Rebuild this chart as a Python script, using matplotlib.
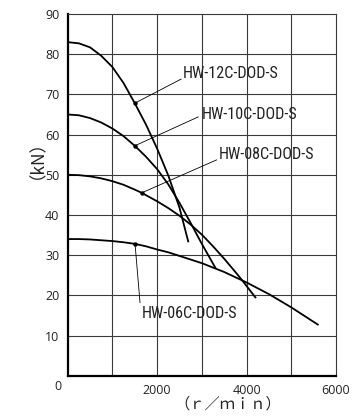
import matplotlib
matplotlib.use("Agg")
import matplotlib.pyplot as plt
from matplotlib import font_manager as fm

# Thrust vs. speed curves for each model (rpm, kN)
models = ["HW-12C-DOD-S", "HW-10C-DOD-S", "HW-08C-DOD-S", "HW-06C-DOD-S"]

rpm_12c = [0, 250, 500, 750, 1000, 1250, 1500, 1750, 2000, 2250, 2500, 2700]
kn_12c = [83, 82.7, 81.7, 79.6, 76.8, 72.8, 67.8, 62.5, 56.5, 49.8, 41.8, 33.2]

rpm_10c = [0, 250, 500, 750, 1000, 1250, 1500, 1750, 2000, 2250, 2500, 2750, 3000, 3310]
kn_10c = [65, 64.8, 64.1, 63.0, 61.5, 59.6, 57.2, 54.5, 51.4, 47.6, 43.0, 38.0, 32.8, 26.7]

rpm_08c = [0, 250, 500, 750, 1000, 1250, 1500, 1655, 2000, 2250, 2500, 2750, 3000,
           3250, 3500, 3750, 3890, 4210]
kn_08c = [50, 49.9, 49.6, 49.1, 48.4, 47.5, 46.3, 45.5, 43.4, 41.7, 39.8, 37.6, 35.1,
          32.2, 29.1, 25.8, 23.9, 19.3]

rpm_06c = [0, 250, 500, 750, 1000, 1250, 1506, 1750, 2000, 2250, 2500, 2750, 3000,
           3250, 3500, 3750, 4000, 4500, 5000, 5610]
kn_06c = [34, 34.0, 33.9, 33.7, 33.5, 33.2, 32.8, 32.2, 31.4, 30.7, 29.8, 28.9, 28.0,
          26.9, 25.8, 24.5, 23.2, 20.3, 17.0, 12.6]

curves = [(rpm_12c, kn_12c), (rpm_10c, kn_10c), (rpm_08c, kn_08c), (rpm_06c, kn_06c)]

# Leader lines: point on curve -> label end, and label anchor (left, middle)
leader_from = [(1500, 67.8), (1500, 57.2), (1655, 45.5), (1506, 32.8)]
leader_to = [(2535, 73.8), (2920, 64.4), (3330, 53.7), (1617, 18.2)]
label_at = [(2570, 75.2), (3000, 64.9), (3385, 55.1), (1655, 15.5)]

x_ticks = [2000, 4000, 6000]
y_ticks = [10, 20, 30, 40, 50, 60, 70, 80, 90]


def has_font(name):
    try:
        fm.findfont(fm.FontProperties(family=name), fallback_to_default=False)
        return True
    except ValueError:
        return False


# Pick a condensed face for the model labels when one is installed
label_family, label_size = "DejaVu Sans", 8.9
for fam, size in [("Liberation Sans Narrow", 12.0), ("Roboto Condensed", 11.6),
                  ("Open Sans Condensed", 11.6), ("Roboto", 9.9)]:
    if has_font(fam):
        label_family, label_size = fam, size
        break

fig = plt.figure(figsize=(3.6, 4.17), dpi=100)
ax = fig.add_axes([67.7 / 360, 41.3 / 417, (336 - 67.7) / 360, (375.7 - 14) / 417])

ax.set_xlim(0, 6000)
ax.set_ylim(0, 90)

# grid
for gx in range(1000, 6000, 1000):
    ax.axvline(gx, color="#3a3a3a", lw=0.8, zorder=1)
for gy in range(10, 90, 10):
    ax.axhline(gy, color="#3a3a3a", lw=0.8, zorder=1)

for s in ["top", "right"]:
    ax.spines[s].set_linewidth(0.8)
    ax.spines[s].set_color("#3a3a3a")
for s in ["left", "bottom"]:
    ax.spines[s].set_linewidth(1.6)
    ax.spines[s].set_color("black")

for xs, ys in curves:
    ax.plot(xs, ys, color="black", lw=1.3, zorder=3, solid_capstyle="butt",
            solid_joinstyle="round")

for name, p0, p1, pl in zip(models, leader_from, leader_to, label_at):
    ax.plot([p0[0], p1[0]], [p0[1], p1[1]], color="black", lw=0.6, zorder=3)
    ax.plot([p0[0]], [p0[1]], "o", color="black", ms=2.2, zorder=4)
    ax.text(pl[0], pl[1], name, ha="left", va="center", fontsize=label_size,
            family=[label_family, "DejaVu Sans"], color="#222222", zorder=5)

tick_font = ["Open Sans", "DejaVu Sans"]
ax.set_xticks(x_ticks)
ax.set_yticks(y_ticks)
ax.tick_params(length=0, pad=6)
for lab in ax.get_xticklabels() + ax.get_yticklabels():
    lab.set_family(tick_font)
    lab.set_fontsize(9)
    lab.set_color("#222222")

ax.annotate("0", xy=(0, 0), xycoords="data", xytext=(-10, -11),
            textcoords="offset pixels", ha="center", va="center",
            fontsize=9, family=tick_font, color="#222222")

cjk = ["Noto Sans CJK JP", "DejaVu Sans"]
fig.text(227.5 / 360, 1 - 404 / 417, "（ｒ／ｍｉｎ）", ha="center", va="center",
         fontsize=11, family=cjk, color="#222222")
fig.text(28 / 360, 1 - 151 / 417, "（kN）", ha="center", va="center",
         rotation=90, fontsize=12.5, family=cjk, color="#222222")

fig.savefig("out.png", dpi=100)
